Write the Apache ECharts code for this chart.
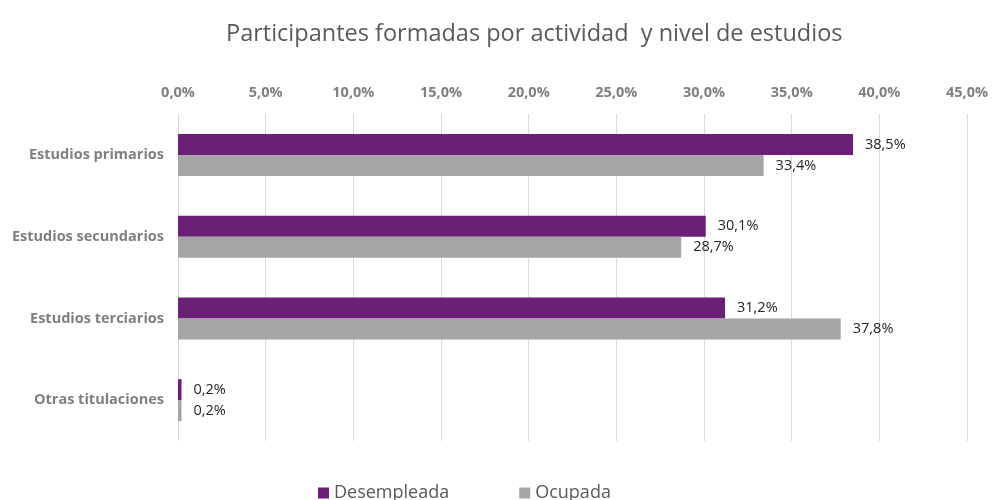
<!DOCTYPE html>
<html><head><meta charset="utf-8">
<script src="https://cdn.jsdelivr.net/npm/echarts@6/dist/echarts.min.js"></script>
<style>html,body{margin:0;padding:0;background:#fff}#c{width:992px;height:500px}</style>
</head><body><div id="c"></div>
<script>
const categories = ["Estudios primarios", "Estudios secundarios", "Estudios terciarios", "Otras titulaciones"];
const desempleada = [38.5, 30.1, 31.2, 0.2];
const ocupada = [33.4, 28.7, 37.8, 0.2];
const seriesNames = ["Desempleada", "Ocupada"];
const fmt = v => v.toFixed(1).replace('.', ',') + '%';
const chart = echarts.init(document.getElementById('c'));
const labelCfg = {show: true, position: 'right', distance: 12, color: '#262626', fontSize: 14.5, fontFamily: 'Open Sans', formatter: p => fmt(p.value)};
chart.setOption({
  animation: false,
  title: {text: 'Participantes formadas por actividad  y nivel de estudios', left: 221, top: 17,
    textStyle: {fontFamily: 'Open Sans', fontWeight: 'normal', fontSize: 23.5, color: '#595959'}},
  legend: {top: 479, left: 313, itemWidth: 11, itemHeight: 11, itemGap: 70, icon: 'rect',
    textStyle: {fontFamily: 'Open Sans', fontSize: 18, color: '#595959'}},
  grid: {left: 178, right: 25, top: 114, bottom: 59, containLabel: false},
  xAxis: {type: 'value', position: 'top', min: 0, max: 45, interval: 5,
    axisLine: {show: false}, axisTick: {show: false},
    splitLine: {lineStyle: {color: '#D9D9D9', width: 1}},
    axisLabel: {formatter: v => fmt(v), fontFamily: 'Open Sans', fontWeight: 'bold', fontSize: 14.5, color: '#7F7F7F', margin: 14}},
  yAxis: {type: 'category', data: categories, inverse: true,
    axisLine: {show: false}, axisTick: {show: false},
    axisLabel: {fontFamily: 'Open Sans', fontWeight: 'bold', fontSize: 14.5, color: '#7F7F7F', margin: 14}},
  series: [
    {name: seriesNames[0], type: 'bar', data: desempleada, barWidth: 21, barGap: '0%', itemStyle: {color: '#6B1F76'}, label: labelCfg},
    {name: seriesNames[1], type: 'bar', data: ocupada, barWidth: 21, barGap: '0%', itemStyle: {color: '#A5A5A5'}, label: labelCfg}
  ]
});
</script></body></html>
